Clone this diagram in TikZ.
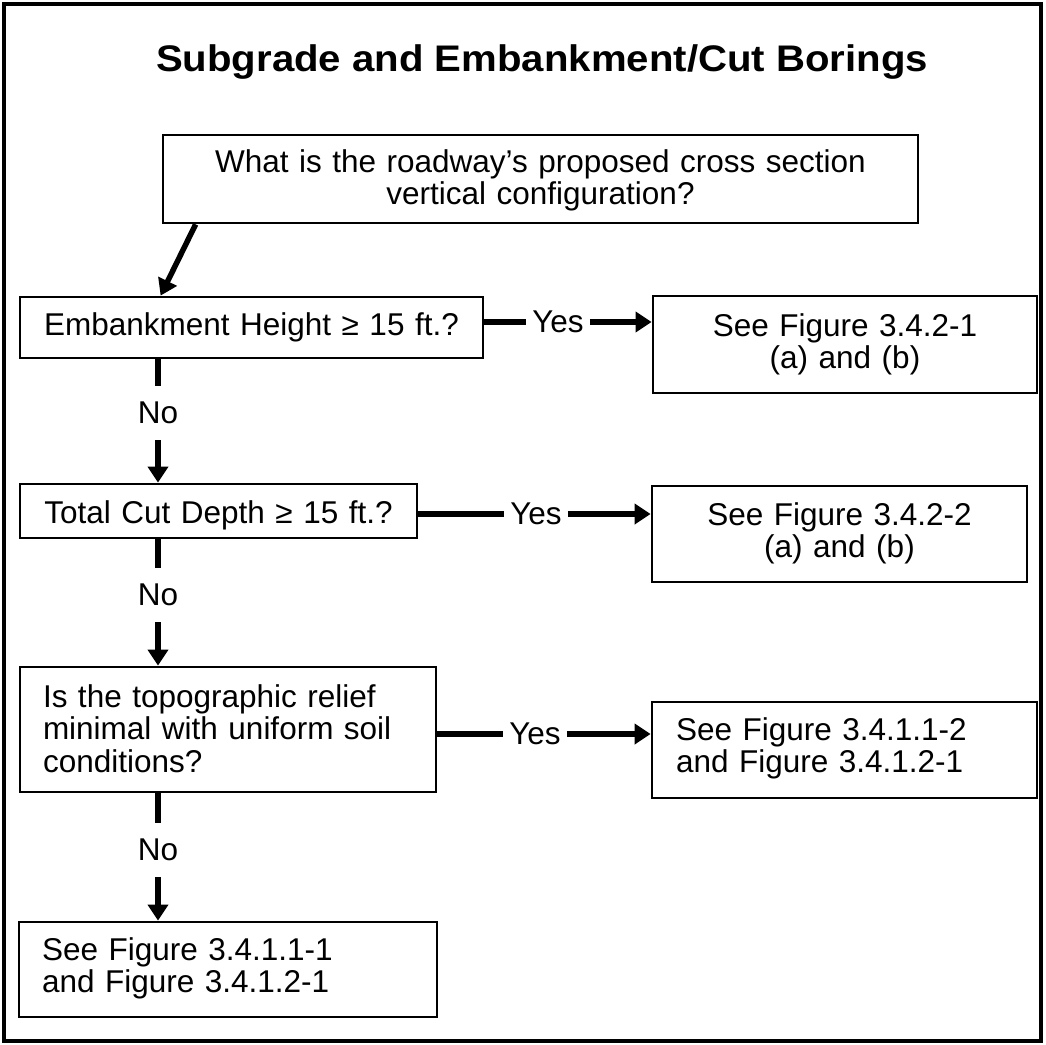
\documentclass[tikz,border=0pt]{standalone}
\usepackage{fontspec}
\setmainfont{Liberation Sans}
\newfontfamily\titlefont[FakeStretch=1.085]{Liberation Sans}
\usetikzlibrary{arrows.meta}
\newcommand\fzbody{\fontsize{31.5}{32.5}\selectfont}
\begin{document}
\begin{tikzpicture}[x=1pt,y=-1pt,
  box/.style={draw, line width=2.8pt, inner ysep=0pt, font=\fzbody},
  cbox/.style={box, inner xsep=0pt, align=center},
  lbox/.style={box, align=left},
  lab/.style={font=\fzbody, inner xsep=6pt, inner ysep=0pt},
  nolab/.style={font=\fzbody, inner sep=0pt, minimum height=54pt},
  conn/.style={line width=5.5pt},
  arr/.style={conn, -{Triangle[length=16pt,width=20pt]}}
]
\useasboundingbox (0,0) rectangle (1046,1044);
\draw[line width=3.3pt] (4,4) rectangle (1041,1041);

\node[anchor=base, font=\titlefont\bfseries\fontsize{37}{42}\selectfont] (title) at (542,71.7) {Subgrade and Embankment/Cut Borings};

\node[cbox, text width=755pt, text height=37pt, text depth=51pt] (q1) at (540.5,179) {What is the roadway’s proposed cross section\\vertical configuration?};
\node[cbox, text width=463pt, text height=38.7pt, text depth=22.3pt] (q2) at (251.5,327.5) {Embankment Height ≥ 15 ft.?};
\node[cbox, text width=384pt, text height=40pt, text depth=57pt] (r1) at (845,344.5) {See Figure 3.4.2-1\\(a) and (b)};
\node[cbox, text width=397pt, text height=39.3pt, text depth=14.7pt] (q3) at (218.5,511) {Total Cut Depth ≥ 15 ft.?};
\node[cbox, text width=375pt, text height=39pt, text depth=57pt] (r2) at (839.5,534) {See Figure 3.4.2-2\\(a) and (b)};
\node[lbox, inner xsep=23pt, text width=370pt, text height=40pt, text depth=85pt] (q4) at (228,729.5) {Is the topographic relief\\minimal with uniform soil\\conditions?};
\node[lbox, inner xsep=24pt, text width=337pt, text height=38pt, text depth=58pt] (r3) at (844.5,750) {See Figure 3.4.1.1-2\\and Figure 3.4.1.2-1};
\node[lbox, inner xsep=23pt, text width=372pt, text height=38pt, text depth=57pt] (q5) at (228,969.5) {See Figure 3.4.1.1-1\\and Figure 3.4.1.2-1};

\node[lab] (y1) at (558,322) {Yes};
\node[lab] (y2) at (536,514) {Yes};
\node[lab] (y3) at (535,734) {Yes};
\node[nolab] (n1) at (158,413) {No};
\node[nolab] (n2) at (158,595) {No};
\node[nolab] (n3) at (158,850) {No};

\draw[arr] ([xshift=34pt]q1.south west) -- ([xshift=142pt]q2.north west);

\draw[conn] (q2.east |- y1) -- (y1.west);
\draw[arr] (y1.east) -- (r1.west |- y1);
\draw[conn] (q3.east |- y2) -- (y2.west);
\draw[arr] (y2.east) -- (r2.west |- y2);
\draw[conn] (q4.east |- y3) -- (y3.west);
\draw[arr] (y3.east) -- (r3.west |- y3);

\draw[conn] (q2.south -| n1) -- (n1.north);
\draw[arr] (n1.south) -- (q3.north -| n1);
\draw[conn] (q3.south -| n2) -- (n2.north);
\draw[arr] (n2.south) -- (q4.north -| n2);
\draw[conn] (q4.south -| n3) -- (n3.north);
\draw[arr] (n3.south) -- (q5.north -| n3);
\end{tikzpicture}
\end{document}
